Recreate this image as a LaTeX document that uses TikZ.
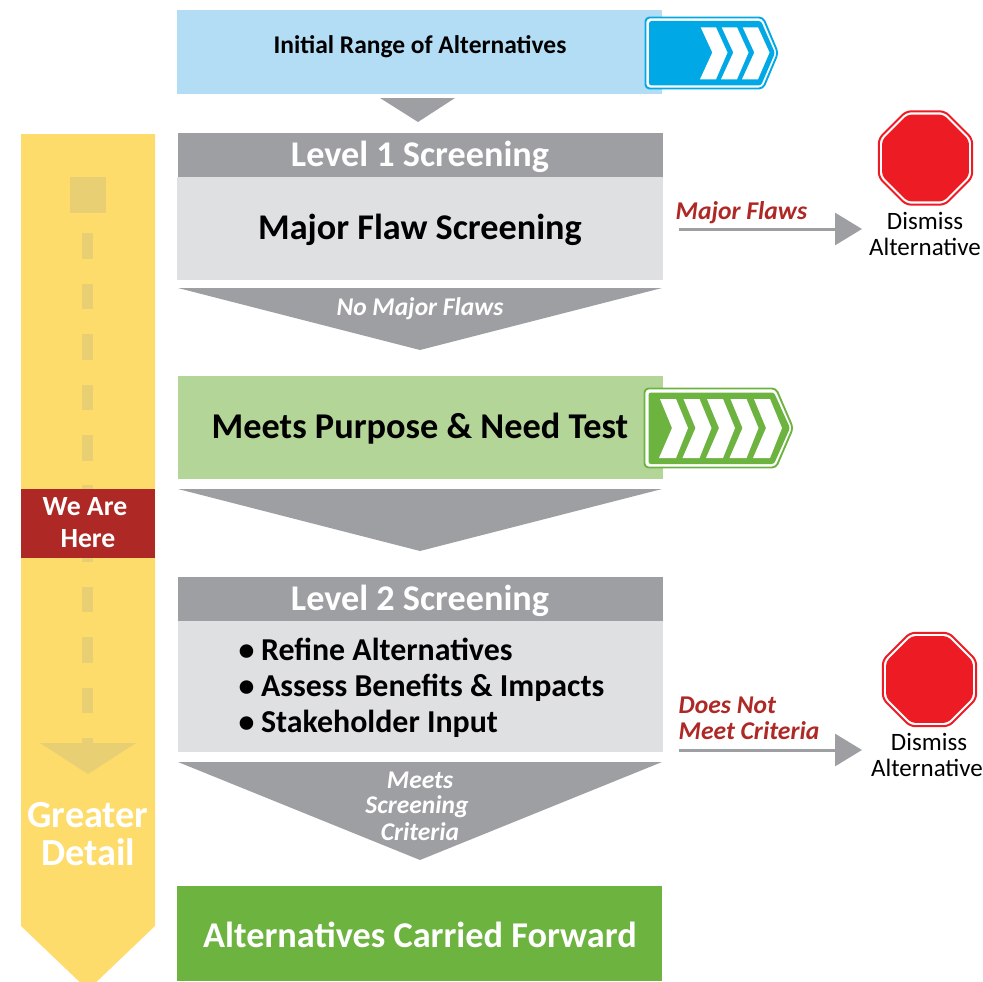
\documentclass[tikz,border=0pt]{standalone}
\usepackage{fontspec}
\setmainfont{Carlito}
\usetikzlibrary{shapes.geometric,arrows.meta}
\definecolor{skyband}{HTML}{B3DDF5}
\definecolor{skysign}{HTML}{00A9E6}
\definecolor{greyband}{HTML}{9D9FA2}
\definecolor{paleband}{HTML}{DFE0E2}
\definecolor{leaf}{HTML}{B3D597}
\definecolor{grass}{HTML}{6DB33F}
\definecolor{amber}{HTML}{FEDC6B}
\definecolor{amberdark}{HTML}{E9CF73}
\definecolor{brick}{HTML}{AE2825}
\definecolor{stopred}{HTML}{ED1C24}
\newcommand{\fs}[1]{\fontsize{#1}{#1}\selectfont}
\tikzset{
 x=1pt,y=-1pt,
 band/.style={inner sep=0pt,outer sep=0pt,anchor=north west},
 label/.style={inner sep=0pt,anchor=base,font=\bfseries},
 redlabel/.style={inner sep=0pt,anchor=base west,text=brick,font=\bfseries\itshape\fs{25.6}},
 whiteit/.style={inner sep=0pt,anchor=base,text=white,font=\bfseries\itshape},
 bullets/.style={inner sep=0pt,anchor=base west,font=\bfseries\fs{31.9}},
 dismiss/.style={inner sep=0pt,anchor=base,font=\fs{25}},
 stopouter/.style={regular polygon,regular polygon sides=8,minimum size=101pt,inner sep=0pt,outer sep=0pt,draw=stopred,line width=2pt,fill=white,rounded corners=5pt},
 stopinner/.style={regular polygon,regular polygon sides=8,minimum size=94pt,inner sep=0pt,outer sep=0pt,fill=stopred,rounded corners=4pt},
 flow/.style={draw=greyband,line width=3pt,-{Triangle[length=27pt,width=32pt]}},
 funnel/.style={fill=greyband},
 dashmark/.style={fill=amberdark},
 chev/.style={fill=white},
}
\begin{document}
\begin{tikzpicture}
\useasboundingbox (0,0) rectangle (983,982);
% yellow side arrow
\begin{scope}
\clip (0,0) rectangle (983,982);
\fill[amber] (21,134) -- (155,134) -- (155,926) -- (88,990) -- (21,926) -- cycle;
\end{scope}
\fill[dashmark] (70,177) rectangle (106,213);
\foreach \d in {233,283.5,334,384.5,435,485,536,586.5,637,687.5,738}
  \fill[dashmark] (82,\d) rectangle (93,\d+25.5);
\fill[dashmark] (40,743) -- (136,743) -- (88,774) -- cycle;
\node[band,fill=brick,minimum width=134pt,minimum height=69pt] (here) at (21,489) {};
\node[label,text=white,font=\bfseries\fs{27.7}] (hereA) at (85,515) {We Are};
\node[label,text=white,font=\bfseries\fs{27.7}] (hereB) at (88,547) {Here};
\node[label,text=white,font=\bfseries\fs{38.3}] (detailA) at (88,827) {Greater};
\node[label,text=white,font=\bfseries\fs{38.3}] (detailB) at (88,865) {Detail};
% top box
\node[band,fill=skyband,minimum width=485pt,minimum height=84pt] (initial) at (177,10) {};
\node[label,font=\bfseries\fs{25.5}] (initialT) at (420,54) {Initial Range of Alternatives};
\fill[funnel] (380,98) -- (455,98) -- (418,122) -- cycle;
% blue sign
\draw[skysign,line width=1.9pt,fill=white,rounded corners=4pt] (645.5,17.5) -- (763,17.5) -- (778,53) -- (763,88.5) -- (645.5,88.5) -- cycle;
\fill[skysign,rounded corners=2.5pt] (649,21) -- (761,21) -- (775,53) -- (761,85.5) -- (649,85.5) -- cycle;
\foreach \o in {0,21,42}
  \fill[chev] (700.7+\o,27.3) -- (716+\o,27.3) -- (727.5+\o,52.5) -- (716+\o,79.3) -- (700+\o,79.3) -- (712.3+\o,52.5) -- cycle;
% level 1
\node[band,fill=greyband,minimum width=485pt,minimum height=44pt] (lvlA) at (178,133) {};
\node[band,fill=paleband,minimum width=486pt,minimum height=103pt] (bodyA) at (177,177) {};
\node[label,text=white,font=\bfseries\fs{36.2}] (lvlAT) at (420,166) {Level 1 Screening};
\node[label,font=\bfseries\fs{36.2}] (bodyAT) at (420,239) {Major Flaw Screening};
\fill[funnel] (178,288) -- (662,288) -- (420,350) -- cycle;
\node[whiteit,font=\bfseries\itshape\fs{25.5}] (noflaw) at (420,315) {No Major Flaws};
% green test
\node[band,fill=leaf,minimum width=485pt,minimum height=103pt] (test) at (178,376) {};
\node[label,font=\bfseries\fs{36.3}] (testT) at (420,438) {Meets Purpose \& Need Test};
\draw[grass,line width=1.9pt,fill=white,rounded corners=4pt] (644.5,388.5) -- (776,388.5) -- (793,428) -- (776,467.5) -- (644.5,467.5) -- cycle;
\fill[grass,rounded corners=2.5pt] (648.5,392.5) -- (774,392.5) -- (790,428) -- (774,464) -- (648.5,464) -- cycle;
\foreach \o in {0,23.5,47,70.5,94}
  \fill[chev] (660+\o,399) -- (676+\o,399) -- (688+\o,428) -- (676+\o,458) -- (659+\o,458) -- (672+\o,428) -- cycle;
\fill[funnel] (178,489) -- (662,489) -- (420,551) -- cycle;
% level 2
\node[band,fill=greyband,minimum width=485pt,minimum height=44pt] (lvlB) at (178,577) {};
\node[band,fill=paleband,minimum width=485pt,minimum height=131pt] (bodyB) at (178,621) {};
\node[label,text=white,font=\bfseries\fs{36.2}] (lvlBT) at (420,610) {Level 2 Screening};
\node[bullets] (bulA) at (238.5,660) {•\hspace{6.5pt}Refine Alternatives};
\node[bullets] (bulB) at (238.5,696) {•\hspace{6.5pt}Assess Benefits \& Impacts};
\node[bullets] (bulC) at (238.5,732) {•\hspace{6.5pt}Stakeholder Input};
\fill[funnel] (178,762) -- (662,762) -- (420,860) -- cycle;
\node[whiteit,font=\bfseries\itshape\fs{25.5}] (critA) at (420,788) {Meets};
\node[whiteit,font=\bfseries\itshape\fs{25.5}] (critB) at (417,813) {Screening};
\node[whiteit,font=\bfseries\itshape\fs{25.5}] (critC) at (420,840) {Criteria};
% final
\node[band,fill=grass,minimum width=485pt,minimum height=95pt] (final) at (177,886) {};
\node[label,text=white,font=\bfseries\fs{36.3}] (finalT) at (420,947) {Alternatives Carried Forward};
% stop one
\node[stopouter] (stopA) at (925.5,158) {};
\node[stopinner] at (stopA.center) (stopAi) {};
\node[dismiss] (disAa) at (925,229) {Dismiss};
\node[dismiss] (disAb) at (925,255) {Alternative};
\coordinate (flowAs) at (678.5,229);
\coordinate (flowAe) at (862,229);
\draw[flow] (flowAs) -- (flowAe);
\node[redlabel] (flawT) at (675.5,219) {Major Flaws};
% stop two
\node[stopouter] (stopB) at (929.5,679.5) {};
\node[stopinner] at (stopB.center) (stopBi) {};
\node[dismiss] (disBa) at (929,750) {Dismiss};
\node[dismiss] (disBb) at (927,776) {Alternative};
\coordinate (flowBs) at (678.5,750);
\coordinate (flowBe) at (862,750);
\draw[flow] (flowBs) -- (flowBe);
\node[redlabel] (critT) at (678.5,713) {Does Not};
\node[redlabel] (critU) at (678.5,739) {Meet Criteria};
\end{tikzpicture}
\end{document}
